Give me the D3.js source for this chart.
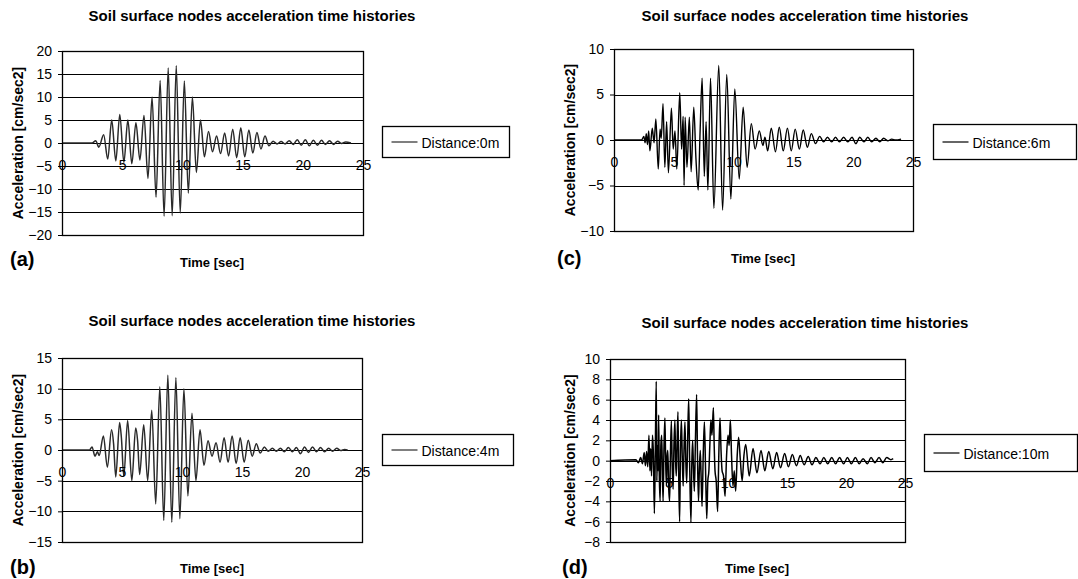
<!DOCTYPE html>
<html>
<head>
<meta charset="utf-8">
<script src="https://cdn.jsdelivr.net/npm/d3@7"></script>
<style>
  body { margin: 0; background: #fff; }
  svg text { font-family: "Liberation Sans", Arial, sans-serif; fill: #000; }
</style>
</head>
<body>
<svg id="chart" width="1078" height="579"></svg>
<script>
/* Four acceleration time histories, Excel-style panels. */

var titleText = "Soil surface nodes acceleration time histories";
var xTitle = "Time [sec]";
var yTitle = "Acceleration [cm/sec2]";
var xTicks = [0, 5, 10, 15, 20, 25];

var ticksA = [-20, -15, -10, -5, 0, 5, 10, 15, 20];
var ticksB = [-15, -10, -5, 0, 5, 10, 15];
var ticksC = [-10, -5, 0, 5, 10];
var ticksD = [-8, -6, -4, -2, 0, 2, 4, 6, 8, 10];

// [time sec, acceleration cm/sec2] (peaks and troughs)
var dist0m = [[0,0],[2.5,0],[2.8,0.5],[3.06,-0.9],[3.46,1.8],[3.8,-3.5],[4.13,5.0],[4.47,-3.9],[4.8,6.2],[5.14,-4.2],
  [5.47,5.0],[5.8,-4.5],[6.14,4.4],[6.47,-3.7],[6.81,6.0],[7.14,-7.7],[7.48,10.0],[7.81,-11.8],[8.15,13.6],[8.48,-15.9],
  [8.82,16.3],[9.15,-15.8],[9.49,16.8],[9.82,-15.2],[10.16,13.5],[10.49,-10.9],[10.83,10.0],[11.16,-6.4],[11.5,5.0],[11.83,-3.0],
  [12.17,2.5],[12.5,-1.9],[12.84,1.5],[13.17,-2.3],[13.51,2.2],[13.84,-2.8],[14.18,3.0],[14.51,-3.2],[14.85,3.3],[15.18,-3.0],
  [15.52,2.8],[15.85,-2.2],[16.19,2.3],[16.52,-1.3],[16.86,1.5],[17.19,-0.6],[17.53,0.4],[17.86,-0.2],[18.2,0.3],[18.53,-0.2],
  [18.87,0.5],[19.2,-0.3],[19.54,0.7],[19.87,-0.5],[20.21,0.7],[20.54,-0.6],[20.88,0.6],[21.21,-0.5],[21.55,0.6],[21.88,-0.3],
  [22.22,0.5],[22.55,-0.3],[22.89,0.4],[23.22,-0.1],[23.56,0.2],[24.0,0]];

var dist4m = [[0,0],[2.3,0],[2.5,0.5],[2.75,-1.0],[2.95,-0.3],[3.1,-0.9],[3.45,2.3],[3.78,-2.8],[4.13,3.3],[4.3,1.0],[4.48,-4.4],
  [4.8,4.5],[4.95,2.0],[5.15,-4.3],[5.47,4.8],[5.82,-5.0],[6.14,3.6],[6.3,1.5],[6.47,-4.0],[6.81,4.1],[7.14,-5.0],
  [7.48,6.5],[7.81,-8.8],[8.15,10.3],[8.48,-11.5],[8.82,12.2],[9.15,-11.8],[9.49,11.8],[9.82,-11.2],[10.16,10.0],[10.49,-7.5],
  [10.83,6.0],[11.16,-5.0],[11.5,3.3],[11.83,-2.5],[12.17,1.5],[12.5,-1.0],[12.84,1.2],[13.17,-2.0],[13.51,2.0],[13.84,-2.0],
  [14.18,2.3],[14.51,-2.2],[14.85,2.0],[15.18,-2.0],[15.52,1.6],[15.85,-1.0],[16.19,1.0],[16.52,-0.5],[16.86,0.5],[17.19,-0.2],
  [17.53,0.3],[17.86,-0.2],[18.2,0.3],[18.53,-0.3],[18.87,0.4],[19.2,-0.3],[19.54,0.4],[19.87,-0.6],[20.21,0.5],[20.54,-0.4],
  [20.88,0.5],[21.21,-0.3],[21.55,0.4],[21.88,-0.3],[22.22,0.3],[22.55,-0.2],[22.89,0.3],[23.22,-0.1],[23.56,0.1],[23.8,0]];

var dist6m = [[0,0],[2.3,0],[2.5,0.4],[2.6,-0.3],[2.7,0.7],[2.8,-0.5],[2.9,1.0],[3.0,-1.2],[3.2,1.3],[3.35,-0.3],[3.5,2.3],
  [3.7,-3.2],[3.85,1.2],[3.95,0.2],[4.1,4.0],[4.25,-3.0],[4.4,2.0],[4.55,-3.6],[4.8,3.5],[4.95,-1.0],[5.1,1.0],[5.25,-3.2],
  [5.5,5.2],[5.65,-1.0],[5.78,2.6],[5.86,-5.0],[5.95,2.5],[6.1,-3.0],[6.3,2.5],[6.45,-3.5],[6.67,3.6],[6.85,-2.0],[7.04,-5.5],
  [7.2,1.0],[7.37,6.8],[7.55,-4.0],[7.7,2.0],[7.85,-5.5],[8.07,6.8],[8.35,-7.5],[8.76,8.2],[9.08,-7.7],[9.43,7.2],[9.77,-6.5],
  [10.1,5.6],[10.47,-4.3],[10.8,3.6],[11.13,-3.0],[11.48,1.8],[11.8,-1.0],[12.15,1.0],[12.45,-0.6],[12.62,0.3],[12.85,-1.2],
  [13.15,1.3],[13.5,-1.3],[13.82,1.4],[14.15,-1.2],[14.5,1.3],[14.82,-1.2],[15.15,1.2],[15.5,-1.0],[15.82,1.1],[16.17,-0.8],
  [16.5,0.7],[16.85,-0.4],[17.2,0.4],[17.52,-0.2],[17.85,0.3],[18.2,-0.2],[18.52,0.3],[18.85,-0.2],[19.2,0.3],[19.55,-0.2],
  [19.9,0.3],[20.22,-0.4],[20.55,0.3],[20.9,-0.2],[21.22,0.3],[21.55,-0.2],[21.9,0.2],[22.22,-0.2],[22.55,0.2],[22.9,-0.1],
  [23.22,0.1],[23.55,0],[24.0,0.1]];

var dist10m = [[0,0],[2.2,0.1],[2.4,-0.2],[2.6,0.3],[2.75,-0.3],[2.9,0.8],[3.0,-0.5],[3.1,0.9],[3.2,-0.6],
  [3.3,2.5],[3.38,-1.0],[3.45,1.2],[3.52,-1.5],[3.6,2.5],[3.68,0.5],[3.76,-5.2],[3.84,1.0],[3.92,7.8],[3.97,-2.0],[4.02,1.5],
  [4.08,-1.0],[4.12,4.5],[4.18,-1.5],[4.25,-4.0],[4.31,1.5],[4.38,2.5],[4.44,-1.0],[4.5,-4.0],[4.57,1.0],[4.65,4.2],[4.71,0.5],
  [4.78,-2.5],[4.84,0.5],[4.9,1.0],[4.97,-2.5],[5.05,-4.0],[5.12,0.5],[5.2,3.9],[5.27,-0.5],[5.35,-2.8],[5.42,1.5],[5.5,4.0],
  [5.56,0],[5.62,-1.5],[5.69,2.0],[5.76,4.8],[5.83,-2.0],[5.9,-6.0],[5.97,1.0],[6.05,4.0],[6.12,0.5],[6.2,-2.5],[6.27,1.0],
  [6.35,3.8],[6.42,0.2],[6.5,-2.2],[6.58,2.0],[6.67,6.1],[6.76,-1.0],[6.86,-6.1],[6.93,-0.5],[7.0,2.0],[7.07,-0.5],[7.15,-3.0],
  [7.24,2.0],[7.34,6.5],[7.42,0],[7.5,-4.0],[7.57,-1.0],[7.65,1.0],[7.72,-1.5],[7.8,-4.5],[7.9,0.5],[8.0,3.8],[8.1,-1.0],
  [8.2,-5.7],[8.29,-2.0],[8.38,-1.0],[8.46,1.5],[8.55,4.0],[8.64,2.5],[8.76,5.2],[8.83,1.5],[8.9,-1.0],[9.0,-2.0],[9.12,-5.0],
  [9.22,0.5],[9.32,4.2],[9.41,1.0],[9.5,-1.0],[9.62,-1.5],[9.75,-3.5],[9.88,0.5],[10.0,2.5],[10.1,1.5],[10.2,4.0],[10.3,0.5],
  [10.42,-2.5],[10.53,-1.0],[10.65,-3.0],[10.78,0.5],[10.9,2.3],[11.05,0],[11.2,-2.0],[11.35,0.5],[11.5,1.6],[11.8,-1.5],
  [12.12,1.2],[12.45,-1.2],[12.8,1.0],[13.12,-1.0],[13.45,0.9],[13.8,-0.8],[14.12,0.8],[14.45,-0.7],[14.8,0.7],[15.12,-0.6],
  [15.45,0.6],[15.8,-0.5],[16.12,0.5],[16.45,-0.4],[16.8,0.4],[17.12,-0.4],[17.45,0.3],[17.8,-0.3],[18.12,0.3],[18.45,-0.3],
  [18.8,0.3],[19.12,-0.3],[19.45,0.3],[19.8,-0.3],[20.12,0.3],[20.45,-0.3],[20.8,0.3],[21.12,-0.3],[21.45,0.2],[21.8,-0.3],
  [22.12,0.3],[22.45,-0.2],[22.8,0.3],[23.12,-0.2],[23.45,0.3],[23.8,0.1],[24.0,0.2]];

var panels = [
  { tag: "(a)", legend: "Distance:0m", data: dist0m, yTicks: ticksA, color: "#2a2a2a", sw: 1.5,
    l: 62, r: 363, t: 51, b: 235, titleX: 252, titleY: 15, tagX: 10, tagY: 259,
    xtX: 212, xtY: 262, ytX: 18, lg: [382, 126, 127, 31] },
  { tag: "(b)", legend: "Distance:4m", data: dist4m, yTicks: ticksB, color: "#2a2a2a", sw: 1.5,
    l: 62, r: 362, t: 358, b: 542, titleX: 252, titleY: 320, tagX: 10, tagY: 567,
    xtX: 212, xtY: 568, ytX: 18, lg: [382, 434, 131, 31] },
  { tag: "(c)", legend: "Distance:6m", data: dist6m, yTicks: ticksC, color: "#000", sw: 1.4,
    l: 614, r: 913, t: 49, b: 231, titleX: 805, titleY: 15, tagX: 557, tagY: 258,
    xtX: 763, xtY: 258, ytX: 570, lg: [933, 124, 143, 35] },
  { tag: "(d)", legend: "Distance:10m", data: dist10m, yTicks: ticksD, color: "#000", sw: 1.5,
    l: 610, r: 905, t: 359, b: 542, titleX: 805, titleY: 322, tagX: 562, tagY: 567,
    xtX: 757, xtY: 568, ytX: 570, lg: [924, 434, 153, 37] }
];

var svg = d3.select("#chart");

function drawPanel(p) {
  var g = svg.append("g");
  var x = d3.scaleLinear().domain([0, 25]).range([p.l, p.r]);
  var y = d3.scaleLinear().domain([p.yTicks[0], p.yTicks[p.yTicks.length - 1]]).range([p.b, p.t]);

  g.append("text").attr("x", p.titleX).attr("y", p.titleY).attr("text-anchor", "middle")
    .attr("dominant-baseline", "central").style("font-size", "15px").style("font-weight", "bold").text(titleText);

  // horizontal gridlines (the 0 line doubles as the x axis)
  g.selectAll("line.grid").data(p.yTicks).enter().append("line")
    .attr("x1", p.l).attr("x2", p.r)
    .attr("y1", function (d) { return Math.round(y(d)) + 0.5; })
    .attr("y2", function (d) { return Math.round(y(d)) + 0.5; })
    .attr("stroke", "#000").attr("stroke-width", 1);

  var ya = g.append("g").attr("transform", "translate(" + p.l + ",0)")
    .call(d3.axisLeft(y).tickValues(p.yTicks).tickSize(4).tickPadding(6));
  ya.select(".domain").remove();
  ya.selectAll("line").attr("stroke", "#000");
  ya.selectAll("text").style("font-size", "14px").attr("fill", "#000");

  var line = d3.line().x(function (d) { return x(d[0]); }).y(function (d) { return y(d[1]); })
    .curve(d3.curveMonotoneX);
  g.append("path").datum(p.data).attr("d", line).attr("fill", "none")
    .attr("stroke", p.color).attr("stroke-width", p.sw).attr("stroke-linejoin", "round");

  var xa = g.append("g").attr("transform", "translate(0," + y(0) + ")")
    .call(d3.axisBottom(x).tickValues(xTicks).tickSize(0).tickPadding(17));
  xa.select(".domain").remove();
  xa.selectAll("text").style("font-size", "14px").attr("fill", "#000");

  g.append("rect").attr("x", p.l + 0.5).attr("y", p.t + 0.5).attr("width", p.r - p.l).attr("height", p.b - p.t)
    .attr("fill", "none").attr("stroke", "#000").attr("stroke-width", 1.3);

  g.append("text").attr("transform", "translate(" + p.ytX + "," + ((p.t + p.b) / 2) + ") rotate(-90)")
    .attr("text-anchor", "middle").attr("dominant-baseline", "central")
    .style("font-size", "14px").style("font-weight", "bold").text(yTitle);

  g.append("text").attr("x", p.xtX).attr("y", p.xtY).attr("text-anchor", "middle")
    .attr("dominant-baseline", "central").style("font-size", "13px").style("font-weight", "bold").text(xTitle);

  g.append("text").attr("x", p.tagX).attr("y", p.tagY).attr("dominant-baseline", "central")
    .style("font-size", "20px").style("font-weight", "bold").text(p.tag);

  /* Legend */
  var lg = g.append("g").attr("transform", "translate(" + (p.lg[0] + 0.5) + "," + (p.lg[1] + 0.5) + ")");
  lg.append("rect").attr("width", p.lg[2]).attr("height", p.lg[3])
    .attr("fill", "#fff").attr("stroke", "#000").attr("stroke-width", 1.3);
  lg.append("line").attr("x1", 9).attr("x2", 35).attr("y1", p.lg[3] / 2).attr("y2", p.lg[3] / 2)
    .attr("stroke", p.color).attr("stroke-width", 1.2);
  lg.append("text").attr("x", 39).attr("y", p.lg[3] / 2 + 1).attr("dominant-baseline", "central")
    .style("font-size", "14px").text(p.legend);
}

panels.forEach(drawPanel);
</script>
</body>
</html>
